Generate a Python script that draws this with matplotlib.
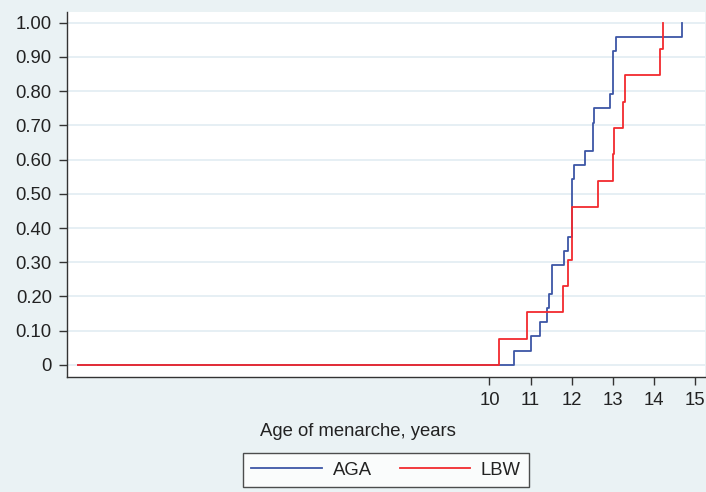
import matplotlib
matplotlib.use('Agg')
import matplotlib.pyplot as plt

plt.rcParams['font.family'] = ['Liberation Sans', 'DejaVu Sans']

# Kaplan-Meier failure estimates
aga_time = [0, 10.60, 11.00, 11.22, 11.40, 11.45, 11.51, 11.82, 11.91, 12.00,
            12.06, 12.33, 12.52, 12.55, 12.92, 13.00, 13.08, 14.68]
aga_fail = [0, 0.042, 0.083, 0.125, 0.167, 0.208, 0.292, 0.333, 0.375, 0.542,
            0.583, 0.625, 0.708, 0.750, 0.792, 0.917, 0.958, 1.0]

lbw_time = [0, 10.22, 10.91, 11.79, 11.92, 12.00, 12.63, 13.00, 13.04, 13.26,
            13.30, 14.14, 14.22]
lbw_fail = [0, 0.077, 0.154, 0.231, 0.308, 0.462, 0.538, 0.615, 0.692, 0.769,
            0.846, 0.923, 1.0]

y_ticks = [i / 10 for i in range(11)]
y_labels = ['0'] + ['%.2f' % v for v in y_ticks[1:]]
x_ticks = [10, 11, 12, 13, 14, 15]

fs = 13.3
bg = '#eaf2f4'
fig = plt.figure(figsize=(7.06, 4.92), dpi=100, facecolor=bg)
ax = fig.add_axes([0.095, 0.234, 0.904, 0.742])
ax.set_facecolor('white')

ax.step(aga_time, aga_fail, where='post', color='#3d56a6', lw=1.3, label='AGA')
ax.step(lbw_time, lbw_fail, where='post', color='#f22a2e', lw=1.3, label='LBW')

ax.set_xlim(-0.275, 15.25)
ax.set_ylim(-0.035, 1.032)
ax.set_yticks(y_ticks)
ax.set_yticklabels(y_labels)
ax.set_xticks(x_ticks)

ax.grid(axis='y', color='#e4eef3', lw=1.3)
ax.set_axisbelow(True)
for s in ['top', 'right']:
    ax.spines[s].set_visible(False)
for s in ['left', 'bottom']:
    ax.spines[s].set_color('#333333')
    ax.spines[s].set_linewidth(1.0)
ax.tick_params(direction='out', length=5.5, width=1, color='#333333',
               labelsize=fs, labelcolor='#222222', pad=5.5)

ax.set_xlabel('Age of menarche, years', fontsize=fs, color='#222222')
ax.xaxis.set_label_coords(0.456, -0.125)

leg = fig.legend(loc='center', bbox_to_anchor=(0.547, 0.0447), ncol=2,
                 fontsize=fs, frameon=True, fancybox=False, handlelength=3.8,
                 handletextpad=0.6, columnspacing=1.5, borderpad=0.45)
leg.get_frame().set_edgecolor('#222222')
leg.get_frame().set_linewidth(1.0)
for t in leg.get_texts():
    t.set_color('#222222')

fig.savefig('out.png', dpi=100, facecolor=bg)
